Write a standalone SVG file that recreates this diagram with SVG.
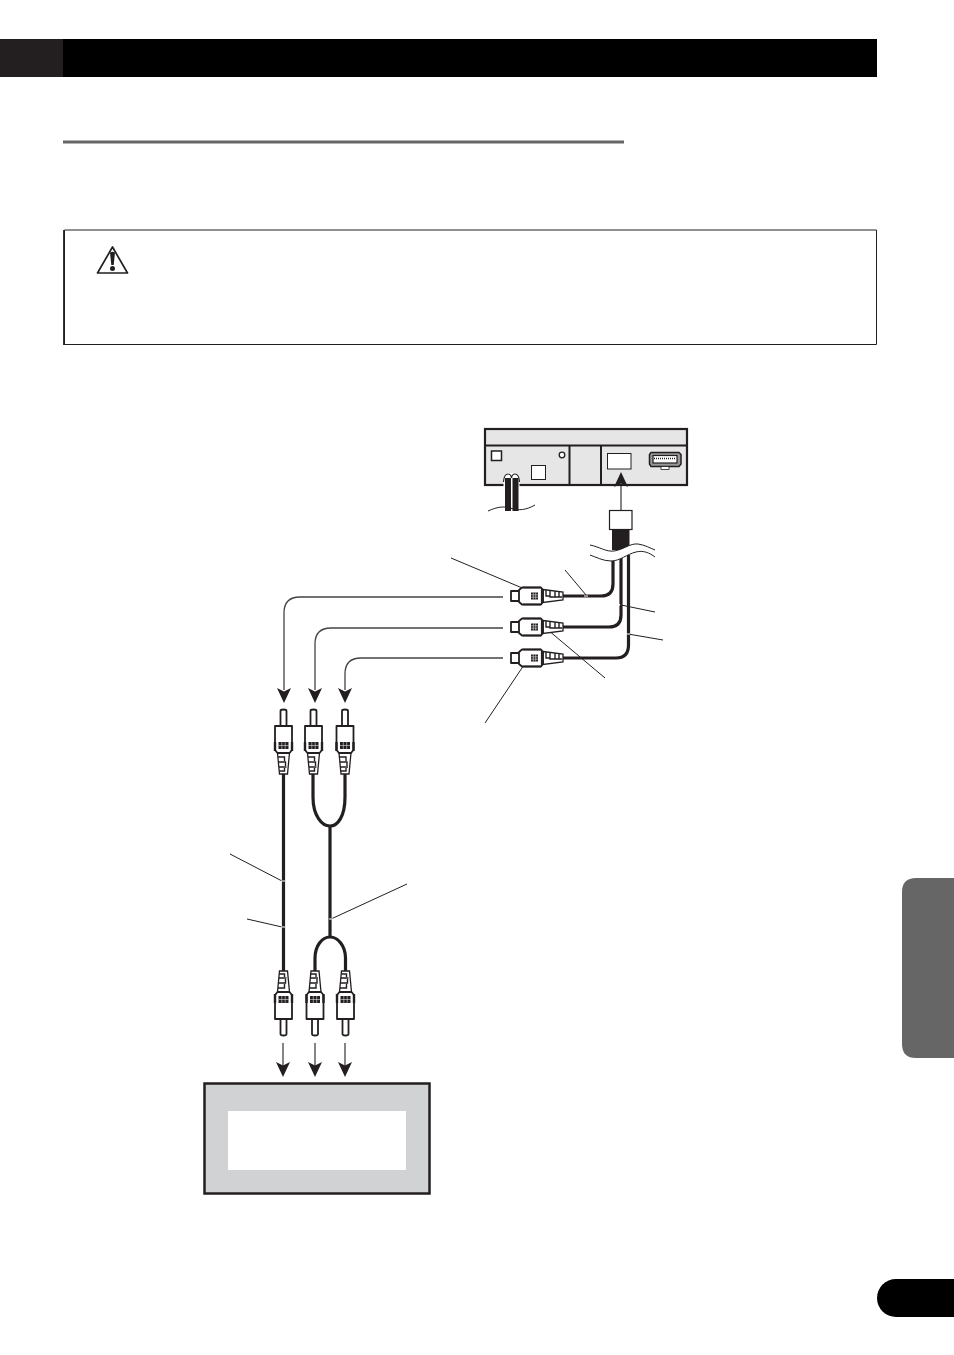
<svg xmlns="http://www.w3.org/2000/svg" width="954" height="1355" viewBox="0 0 954 1355">
<style>
.cable{fill:none;stroke:#231f20;stroke-width:3.2}
.thin{fill:none;stroke:#231f20;stroke-width:1}
.grey{fill:none;stroke:#444;stroke-width:1.3}
.arr{fill:none;stroke:#231f20;stroke-width:1.1}
.wave{fill:none;stroke:#231f20;stroke-width:1}
.pb{fill:#fff;stroke:#231f20;stroke-width:1.8;stroke-linejoin:round}
.ps{fill:#fff;stroke:#231f20;stroke-width:1.300}
.zig{fill:none;stroke:#231f20;stroke-width:1.400}
</style>
<defs>
<g id="plugH">
<path class="ps" d="M0-6.500L20-4V4L0 6.500Z"/>
<path class="zig" d="M3-6V0H7M7-5V1H12M12-5V1H16M16-4V1H19"/>
<path class="pb" d="M-32-5H-23V5H-32Z"/>
<path class="pb" d="M-24-6L-21-8.500H-2L0-6V6L-2 8.500H-21L-24 6Z"/>
<path d="M-20-8.500H-2M-20 8.500H-2" stroke="#231f20" stroke-width="1.400"/>
<rect x="-12" y="-3.500" width="7" height="7" fill="#231f20"/>
<path d="M-9.700-3.500V3.500M-7.300-3.500V3.500M-12-1.200H-5M-12 1.200H-5" stroke="#fff" stroke-width=".5"/>
<path d="M-1.200-7V7" stroke="#231f20" stroke-width="1.800"/>
</g>
<g id="plugV">
<path class="ps" d="M-6 0L-4 21H4L6 0Z"/>
<path class="zig" d="M-5.500 4H1V8M-5 9H2V13M-4.500 14H3M-4 18H1V15"/>
<path class="pb" d="M-3-42C-3-44 3-44 3-42V-27H-3Z"/>
<path class="pb" d="M-8.500-27H8.500V-3L6 0H-6L-8.500-3Z"/>
<path d="M-8.500-11V-2M8.500-11V-2" stroke="#231f20" stroke-width="2.400"/>
<rect x="-5" y="-11" width="10" height="7" fill="#231f20"/>
<path d="M-1.700-11V-4M1.700-11V-4M-5-7.500H5" stroke="#fff" stroke-width=".5"/>
</g>
<path id="head" d="M0 0L-7-15L0-11.500L7-15Z" fill="#231f20"/>
</defs>

<g id="header">
<rect x="0" y="39" width="63" height="38" fill="#231f20"/>
<rect x="63" y="39" width="814" height="38" fill="#000"/>
</g>
<rect id="section-rule" x="63" y="140.500" width="561" height="3" fill="#666"/>

<g id="caution">
<path d="M64.500 344.500V230H876.500V344.500Z" fill="#fff" stroke="#231f20" stroke-width="1"/>
<path d="M64 230V345" stroke="#231f20" stroke-width="1.800"/>
<path d="M112.500 247L97.500 273H127.500Z" fill="#fff" stroke="#231f20" stroke-width="1.700" stroke-linejoin="round"/>
<path d="M110 252.500Q112.500 251 115 252.500L113.700 265H111.300Z" fill="#231f20"/>
<circle cx="112.500" cy="268.500" r="2.500" fill="#231f20"/>
</g>

<g id="side-tab"><path d="M954 878H916Q902 878 902 892V1044Q902 1058 916 1058H954Z" fill="#666"/></g>
<g id="page-pill"><path d="M954 1279H896A19 19 0 0 0 896 1317H954Z" fill="#000"/></g>

<g id="unit">
<rect x="485" y="429" width="202" height="56" fill="#e6e6e6" stroke="#231f20" stroke-width="2.200"/>
<path d="M485 445.500H687M569.500 445.500V485M601 445.500V485" fill="none" stroke="#231f20" stroke-width="2"/>
<rect x="491.500" y="451" width="10" height="9.500" fill="#fff" stroke="#231f20" stroke-width="1.500"/>
<circle cx="562" cy="455" r="2.800" fill="#fff" stroke="#231f20" stroke-width="1.300"/>
<rect x="531.500" y="465.500" width="14" height="14" fill="#fff" stroke="#231f20" stroke-width="1"/>
<rect x="607.500" y="453.500" width="23.500" height="15.500" fill="#fff" stroke="#231f20" stroke-width="1"/>
<path d="M651 452.500H679L681 454.500V464L679 466.500H651L649.500 464V454.500Z" fill="#999" stroke="#231f20" stroke-width="1.500"/>
<rect x="653" y="455.500" width="24" height="7.500" fill="#fff" stroke="#231f20" stroke-width="1.200"/>
<path d="M654 458.500H676" stroke="#231f20" stroke-width="1.500" stroke-dasharray="1 1"/>
<rect x="661" y="466.500" width="8" height="3" fill="#fff" stroke="#231f20" stroke-width=".8"/>
<path d="M503.500 510V480Q504 473 508 473H515Q519 473 519.500 480V510Z" fill="#fff"/>
<rect x="505" y="478" width="6" height="33" fill="#231f20"/>
<rect x="512.500" y="478" width="6" height="33" fill="#231f20"/>
<path d="M503.500 482Q504 474 508 474Q511 474 511.500 478Q512 474 515 474Q519 474 519.500 482" fill="none" stroke="#231f20" stroke-width="1.200"/>
<path class="wave" d="M488 511C497 507 503 506 510 508C519 511 526 510 535 505"/>
</g>

<g id="connectors">
<path class="cable" d="M563 596H601Q613 596 613 584V558"/>
<path class="cable" d="M563 627H609Q621 627 621 615V558"/>
<path class="cable" d="M563 658H616Q628.500 658 628.500 645V555"/>
<path class="grey" d="M503 597H300Q284 597 284 613V690"/>
<path class="grey" d="M503 628H331Q315 628 315 644V690"/>
<path class="grey" d="M503 658H361Q345 658 345 674V690"/>
<use href="#head" transform="translate(284 703)"/>
<use href="#head" transform="translate(315 703)"/>
<use href="#head" transform="translate(345 703)"/>
<path class="arr" d="M621 510V485"/>
<use href="#head" transform="translate(621 472) rotate(180)"/>
<path class="cable" d="M283.500 774V972"/>
<path class="cable" d="M313 774V797C313 816 322 826 330 826C338 826 345 816 345 797V774"/>
<path class="cable" d="M330 826V937"/>
<path class="cable" d="M315 972V958C315 946 322 937 330 937C338 937 345.500 946 345.500 958V972"/>
<path class="arr" d="M283 1043V1066"/>
<path class="arr" d="M315 1043V1066"/>
<path class="arr" d="M345 1043V1066"/>
<use href="#head" transform="translate(283 1077)"/>
<use href="#head" transform="translate(315 1077)"/>
<use href="#head" transform="translate(345 1077)"/>
<path class="thin" d="M451 558L527 590M565 570L586 595M655 612L621 605M663 640L628 634M605 678L548 630M485 723L526 662M230 854L282 881M247 919L282 927M407 884L331 919"/>
<path d="M281 881H285M281 927H285M329 919H333M584 596H588M619.500 605.500V604M627 634H630" stroke="#fff" stroke-width="1.200"/>
</g>

<g id="cable-plug">
<rect x="612" y="528" width="17.500" height="22" fill="#231f20"/>
<rect x="609.500" y="510.500" width="22.500" height="19" fill="#fff" stroke="#231f20" stroke-width="1.200"/>
<path d="M590 545C600 547 606 552 614 551C623 550 630 543 638 544C645 545 650 548 655 550L655 557C650 553 643 550 636 552C627 554 620 561 611 561C603 561 596 557 590 555Z" fill="#fff"/>
<path class="wave" d="M590 545C600 547 606 552 614 551C623 550 630 543 638 544C645 545 650 548 655 550"/>
<path class="wave" d="M590 555C596 557 603 561 611 561C620 561 627 554 636 552C643 550 650 553 655 557"/>
</g>

<g id="plug-top-1"><use href="#plugH" transform="translate(543 596)"/></g>
<g id="plug-top-2"><use href="#plugH" transform="translate(543 627)"/></g>
<g id="plug-top-3"><use href="#plugH" transform="translate(543 658)"/></g>
<g id="plug-mid-1"><use href="#plugV" transform="translate(283.500 753)"/></g>
<g id="plug-mid-2"><use href="#plugV" transform="translate(313.500 753)"/></g>
<g id="plug-mid-3"><use href="#plugV" transform="translate(345 753)"/></g>
<g id="plug-low-1"><use href="#plugV" transform="translate(283.500 992) scale(1 -1)"/></g>
<g id="plug-low-2"><use href="#plugV" transform="translate(315 992) scale(1 -1)"/></g>
<g id="plug-low-3"><use href="#plugV" transform="translate(345.500 992) scale(1 -1)"/></g>

<g id="display">
<rect x="204.500" y="1083.500" width="225" height="110" fill="#d1d2d3" stroke="#231f20" stroke-width="2.500"/>
<rect x="228" y="1111" width="178" height="59" fill="#fff"/>
</g>
</svg>
